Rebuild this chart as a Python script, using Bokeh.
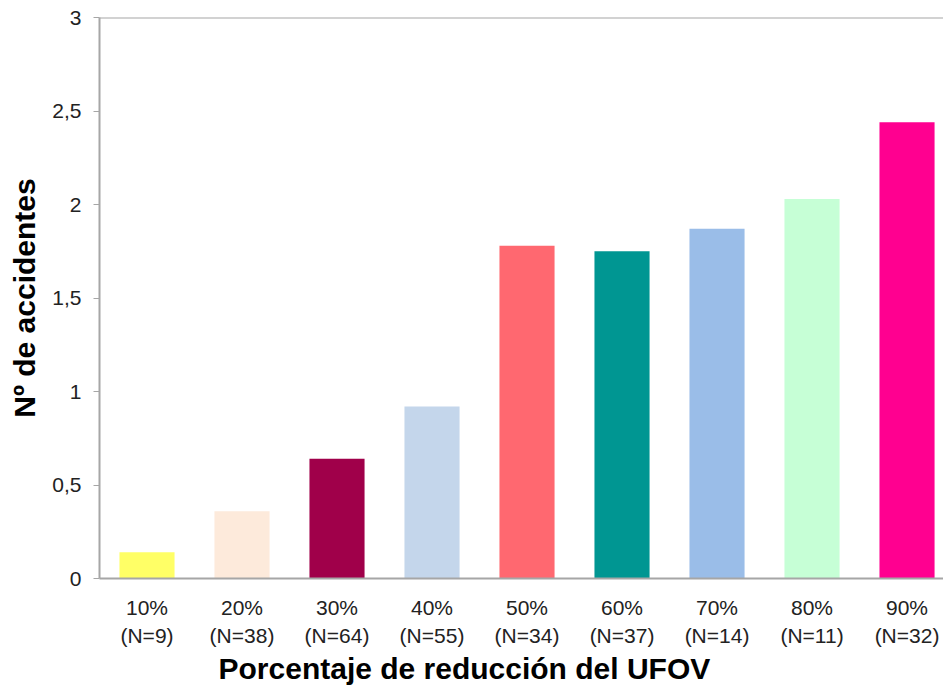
from bokeh.plotting import figure
from bokeh.models import Range1d, FixedTicker, CustomJSTickFormatter, Span, Title
from bokeh.embed import file_html
from bokeh.resources import INLINE

categories = ["10%", "20%", "30%", "40%", "50%", "60%", "70%", "80%", "90%"]
counts = [9, 38, 64, 55, 34, 37, 14, 11, 32]
values = [0.14, 0.36, 0.64, 0.92, 1.78, 1.75, 1.87, 2.03, 2.44]
colors = ["#FFFF66", "#FDEADB", "#A0004A", "#C4D6EB", "#FF6870",
          "#009692", "#9ABDE8", "#C6FFD6", "#FF0090"]
y_ticks = [0, 0.5, 1, 1.5, 2, 2.5, 3]

xs = [i + 0.5 for i in range(len(categories))]
labels = {x: f"{c}\n(N={n})" for x, c, n in zip(xs, categories, counts)}

FONT = "Liberation Sans"
AXIS_COLOR = "#A6A6A6"

p = figure(width=943, height=688, output_backend="svg", toolbar_location=None,
           x_range=Range1d(0, 8.884), y_range=Range1d(0, 3),
           min_border_left=99, min_border_right=0, min_border_top=17,
           min_border_bottom=110)
p.outline_line_color = None
p.grid.grid_line_color = None

p.vbar(x=xs, top=values, width=0.58, bottom=0, fill_color=colors, line_color=None)

p.add_layout(Span(location=3, dimension="width", line_color=AXIS_COLOR, line_width=2))

# y axis
ya = p.yaxis[0]
ya.ticker = FixedTicker(ticks=y_ticks)
ya.formatter = CustomJSTickFormatter(code="return tick.toString().replace('.', ',');")
ya.axis_line_color = AXIS_COLOR
ya.axis_line_width = 2
ya.major_tick_line_color = AXIS_COLOR
ya.major_tick_line_width = 1
ya.major_tick_out = 6
ya.major_tick_in = 0
ya.minor_tick_line_color = None
ya.major_label_text_font = FONT
ya.major_label_text_font_size = "21px"
ya.major_label_text_color = "#222222"
ya.major_label_standoff = 12
ya.axis_label = "Nº de accidentes"
ya.axis_label_text_font = FONT
ya.axis_label_text_font_size = "30px"
ya.axis_label_text_font_style = "bold"
ya.axis_label_text_color = "#000000"
ya.axis_label_standoff = 8

# x axis
xa = p.xaxis[0]
xa.ticker = FixedTicker(ticks=xs)
xa.major_label_overrides = labels
xa.axis_line_color = AXIS_COLOR
xa.axis_line_width = 2
xa.major_tick_line_color = None
xa.minor_tick_line_color = None
xa.major_label_text_font = FONT
xa.major_label_text_font_size = "21px"
xa.major_label_text_color = "#222222"
xa.major_label_standoff = 11
xa.major_label_text_line_height = 1.24

p.add_layout(Title(text="Porcentaje de reducción del UFOV", align="left", offset=119,
                   text_font=FONT, text_font_size="30px", text_font_style="bold",
                   text_color="#000000", standoff=3, vertical_align="top"), "below")

open("out.html", "w").write(file_html(p, INLINE))
